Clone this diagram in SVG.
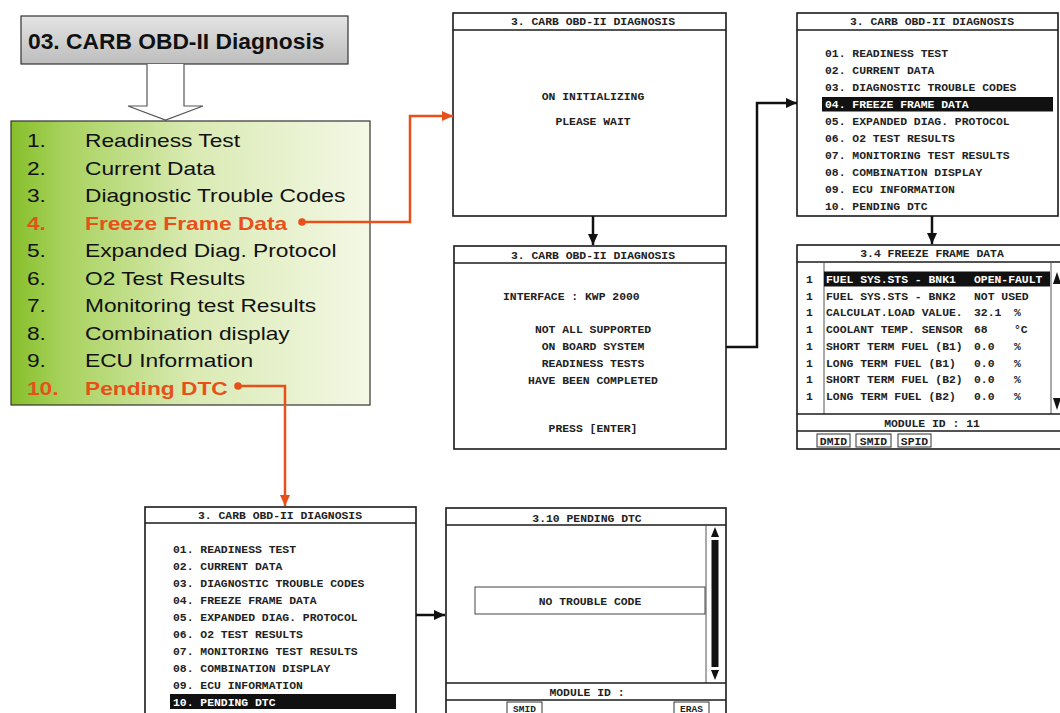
<svg xmlns="http://www.w3.org/2000/svg" width="1060" height="713" viewBox="0 0 1060 713">
<style>
.m{font-family:"Liberation Mono","DejaVu Sans Mono",monospace;font-weight:bold;font-size:11.4px;fill:#222}
.mc{text-anchor:middle}
.inv{fill:#fff}
.scr{fill:#fff;stroke:#1a1a1a;stroke-width:1.6}
.sep{stroke:#1a1a1a;stroke-width:1.4;fill:none}
.thin{stroke:#555;stroke-width:1;fill:none}
.li{font-family:"Liberation Sans",Arial,sans-serif;font-size:18.5px;fill:#111}
.red{fill:#e8501a;font-weight:bold}
.cr{stroke:#e8501a;stroke-width:2.5;fill:none}
.cb{stroke:#111;stroke-width:2.5;fill:none}
.btn{fill:#fff;stroke:#333;stroke-width:1}
.sm{font-size:9.5px}
</style>
<defs>
<linearGradient id="gTitle" x1="0" y1="0" x2="0" y2="1">
<stop offset="0" stop-color="#e4e4e4"/>
<stop offset="1" stop-color="#bdbdbd"/>
</linearGradient>
<linearGradient id="gGreen" x1="0" y1="0" x2="1" y2="0">
<stop offset="0" stop-color="#86bf2a"/>
<stop offset="0.15" stop-color="#a8d25e"/>
<stop offset="0.5" stop-color="#d9eab2"/>
<stop offset="1" stop-color="#f4f8e6"/>
</linearGradient>
<marker id="aR" markerUnits="userSpaceOnUse" markerWidth="12" markerHeight="12" viewBox="0 0 12 12" refX="11" refY="6" orient="auto">
<path d="M0,1 L11,6 L0,11 Z" fill="#e8501a"/>
</marker>
<marker id="aB" markerUnits="userSpaceOnUse" markerWidth="12" markerHeight="12" viewBox="0 0 12 12" refX="11" refY="6" orient="auto">
<path d="M0,1 L11,6 L0,11 Z" fill="#111"/>
</marker>
<marker id="dR" markerUnits="userSpaceOnUse" markerWidth="10" markerHeight="10" viewBox="0 0 10 10" refX="5" refY="5" orient="auto">
<circle cx="5" cy="5" r="3.8" fill="#e8501a"/>
</marker>
</defs>

<g id="title">
<rect x="21" y="16" width="327" height="48" fill="url(#gTitle)" stroke="#333" stroke-width="1.2"/>
<text x="28" y="49" font-family="'Liberation Sans',Arial,sans-serif" font-weight="bold" font-size="22.8" fill="#111">03. CARB OBD-II Diagnosis</text>
</g>

<g id="hollow-arrow">
<path d="M147,64 V106 H128 L165.5,120 L203,106 H184 V64" fill="#fff" stroke="#555" stroke-width="1.2"/>
</g>

<g id="menu-list">
<rect x="11" y="121" width="359" height="284" fill="url(#gGreen)" stroke="#333" stroke-width="1.2"/>
<g transform="scale(1.23,1)" class="li">
<text x="21.9" y="147">1.</text><text x="69.1" y="147">Readiness Test</text>
<text x="21.9" y="174.6">2.</text><text x="69.1" y="174.6">Current Data</text>
<text x="21.9" y="202.1">3.</text><text x="69.1" y="202.1">Diagnostic Trouble Codes</text>
<text x="21.9" y="229.7" class="red">4.</text><text x="69.1" y="229.7" class="red">Freeze Frame Data</text>
<text x="21.9" y="257.2">5.</text><text x="69.1" y="257.2">Expanded Diag. Protocol</text>
<text x="21.9" y="284.8">6.</text><text x="69.1" y="284.8">O2 Test Results</text>
<text x="21.9" y="312.4">7.</text><text x="69.1" y="312.4">Monitoring test Results</text>
<text x="21.9" y="339.9">8.</text><text x="69.1" y="339.9">Combination display</text>
<text x="21.9" y="367.5">9.</text><text x="69.1" y="367.5">ECU Information</text>
<text x="21.9" y="395" class="red">10.</text><text x="69.1" y="395" class="red">Pending DTC</text>
</g>
</g>

<g id="screen-init">
<rect class="scr" x="453" y="13" width="273" height="203"/>
<line class="sep" x1="453" y1="30" x2="726" y2="30"/>
<text class="m mc" x="593" y="25">3. CARB OBD-II DIAGNOSIS</text>
<text class="m mc" x="593" y="100">ON INITIALIZING</text>
<text class="m mc" x="593" y="125">PLEASE WAIT</text>
</g>

<g id="screen-interface">
<rect class="scr" x="454" y="246" width="272" height="203"/>
<line class="sep" x1="454" y1="263" x2="726" y2="263"/>
<text class="m mc" x="593" y="259">3. CARB OBD-II DIAGNOSIS</text>
<text class="m" x="503" y="300">INTERFACE : KWP 2000</text>
<text class="m mc" x="593" y="333">NOT ALL SUPPORTED</text>
<text class="m mc" x="593" y="350">ON BOARD SYSTEM</text>
<text class="m mc" x="593" y="367">READINESS TESTS</text>
<text class="m mc" x="593" y="384">HAVE BEEN COMPLETED</text>
<text class="m mc" x="593" y="432">PRESS [ENTER]</text>
</g>

<g id="screen-menu-freeze">
<rect class="scr" x="797" y="13" width="261" height="203"/>
<line class="sep" x1="797" y1="30" x2="1058" y2="30"/>
<text class="m mc" x="932" y="25">3. CARB OBD-II DIAGNOSIS</text>
<rect x="822" y="97" width="231" height="14.5" fill="#111"/>
<text class="m" x="825" y="57">01. READINESS TEST</text>
<text class="m" x="825" y="74">02. CURRENT DATA</text>
<text class="m" x="825" y="91">03. DIAGNOSTIC TROUBLE CODES</text>
<text class="m inv" x="825" y="108">04. FREEZE FRAME DATA</text>
<text class="m" x="825" y="125">05. EXPANDED DIAG. PROTOCOL</text>
<text class="m" x="825" y="142">06. O2 TEST RESULTS</text>
<text class="m" x="825" y="159">07. MONITORING TEST RESULTS</text>
<text class="m" x="825" y="176">08. COMBINATION DISPLAY</text>
<text class="m" x="825" y="193">09. ECU INFORMATION</text>
<text class="m" x="825" y="210">10. PENDING DTC</text>
</g>

<g id="screen-freeze-data">
<rect class="scr" x="797" y="245" width="270" height="204"/>
<line class="sep" x1="797" y1="262" x2="1060" y2="262"/>
<text class="m mc" x="932" y="257">3.4 FREEZE FRAME DATA</text>
<line class="thin" x1="824" y1="262" x2="824" y2="414"/>
<line class="thin" x1="1051" y1="262" x2="1051" y2="414"/>
<line class="sep" x1="797" y1="414" x2="1060" y2="414"/>
<line class="sep" x1="797" y1="431" x2="1060" y2="431"/>
<path d="M1057,272 L1053,284 H1061 Z" fill="#111"/>
<path d="M1057,410 L1053,398 H1061 Z" fill="#111"/>
<rect x="824" y="271.5" width="226" height="15" fill="#111"/>
<text class="m" x="806" y="283">1</text>
<text class="m inv" x="826" y="283">FUEL SYS.STS - BNK1</text>
<text class="m inv" x="974" y="283">OPEN-FAULT</text>
<text class="m" x="806" y="299.7">1</text>
<text class="m" x="826" y="299.7">FUEL SYS.STS - BNK2</text>
<text class="m" x="974" y="299.7">NOT USED</text>
<text class="m" x="806" y="316.4">1</text>
<text class="m" x="826" y="316.4">CALCULAT.LOAD VALUE.</text>
<text class="m" x="974" y="316.4">32.1</text><text class="m" x="1014" y="316.4">%</text>
<text class="m" x="806" y="333.1">1</text>
<text class="m" x="826" y="333.1">COOLANT TEMP. SENSOR</text>
<text class="m" x="974" y="333.1">68</text><text class="m" x="1014" y="333.1">°C</text>
<text class="m" x="806" y="349.8">1</text>
<text class="m" x="826" y="349.8">SHORT TERM FUEL (B1)</text>
<text class="m" x="974" y="349.8">0.0</text><text class="m" x="1014" y="349.8">%</text>
<text class="m" x="806" y="366.5">1</text>
<text class="m" x="826" y="366.5">LONG TERM FUEL (B1)</text>
<text class="m" x="974" y="366.5">0.0</text><text class="m" x="1014" y="366.5">%</text>
<text class="m" x="806" y="383.2">1</text>
<text class="m" x="826" y="383.2">SHORT TERM FUEL (B2)</text>
<text class="m" x="974" y="383.2">0.0</text><text class="m" x="1014" y="383.2">%</text>
<text class="m" x="806" y="400">1</text>
<text class="m" x="826" y="400">LONG TERM FUEL (B2)</text>
<text class="m" x="974" y="400">0.0</text><text class="m" x="1014" y="400">%</text>
<text class="m mc" x="932" y="427">MODULE ID : 11</text>
<rect class="btn" x="817" y="434" width="33" height="13"/>
<rect class="btn" x="856" y="434" width="35" height="13"/>
<rect class="btn" x="898" y="434" width="33" height="13"/>
<text class="m mc" x="833.5" y="444.5">DMID</text>
<text class="m mc" x="873.5" y="444.5">SMID</text>
<text class="m mc" x="914.5" y="444.5">SPID</text>
</g>

<g id="screen-menu-pending">
<rect class="scr" x="145" y="507" width="271" height="212"/>
<line class="sep" x1="145" y1="523" x2="416" y2="523"/>
<text class="m mc" x="280" y="519">3. CARB OBD-II DIAGNOSIS</text>
<rect x="170" y="694" width="226" height="15" fill="#111"/>
<text class="m" x="173" y="553">01. READINESS TEST</text>
<text class="m" x="173" y="570">02. CURRENT DATA</text>
<text class="m" x="173" y="587">03. DIAGNOSTIC TROUBLE CODES</text>
<text class="m" x="173" y="604">04. FREEZE FRAME DATA</text>
<text class="m" x="173" y="621">05. EXPANDED DIAG. PROTOCOL</text>
<text class="m" x="173" y="638">06. O2 TEST RESULTS</text>
<text class="m" x="173" y="655">07. MONITORING TEST RESULTS</text>
<text class="m" x="173" y="672">08. COMBINATION DISPLAY</text>
<text class="m" x="173" y="689">09. ECU INFORMATION</text>
<text class="m inv" x="173" y="706">10. PENDING DTC</text>
</g>

<g id="screen-pending-dtc">
<rect class="scr" x="446" y="508" width="280" height="212"/>
<line class="sep" x1="446" y1="525" x2="726" y2="525"/>
<text class="m mc" x="587" y="522">3.10 PENDING DTC</text>
<line class="thin" x1="706" y1="525" x2="706" y2="683"/>
<path d="M715,527 L711,537 H719 Z" fill="#111"/>
<rect x="711.5" y="540" width="7" height="127" fill="#111"/>
<path d="M715,680 L711,670 H719 Z" fill="#111"/>
<rect x="475" y="587" width="230" height="27" fill="#fff" stroke="#444" stroke-width="1"/>
<text class="m mc" x="590" y="605">NO TROUBLE CODE</text>
<line class="sep" x1="446" y1="683" x2="726" y2="683"/>
<line class="sep" x1="446" y1="700" x2="726" y2="700"/>
<text class="m mc" x="587" y="696">MODULE ID :</text>
<rect class="btn" x="507" y="702" width="35" height="14"/>
<rect class="btn" x="674" y="702" width="35" height="14"/>
<text class="m mc sm" x="524.5" y="711.5">SMID</text>
<text class="m mc sm" x="691.5" y="711.5">ERAS</text>
</g>

<g id="connectors">
<path class="cr" d="M302,222 H410 V116 H453" marker-start="url(#dR)" marker-end="url(#aR)"/>
<path class="cr" d="M238,386 H285 V506" marker-start="url(#dR)" marker-end="url(#aR)"/>
<path class="cb" d="M593,216 V245" marker-end="url(#aB)"/>
<path class="cb" d="M726,347 H757 V103 H797" marker-end="url(#aB)"/>
<path class="cb" d="M932,216 V244" marker-end="url(#aB)"/>
<path class="cb" d="M416,615 H445" marker-end="url(#aB)"/>
</g>
</svg>
